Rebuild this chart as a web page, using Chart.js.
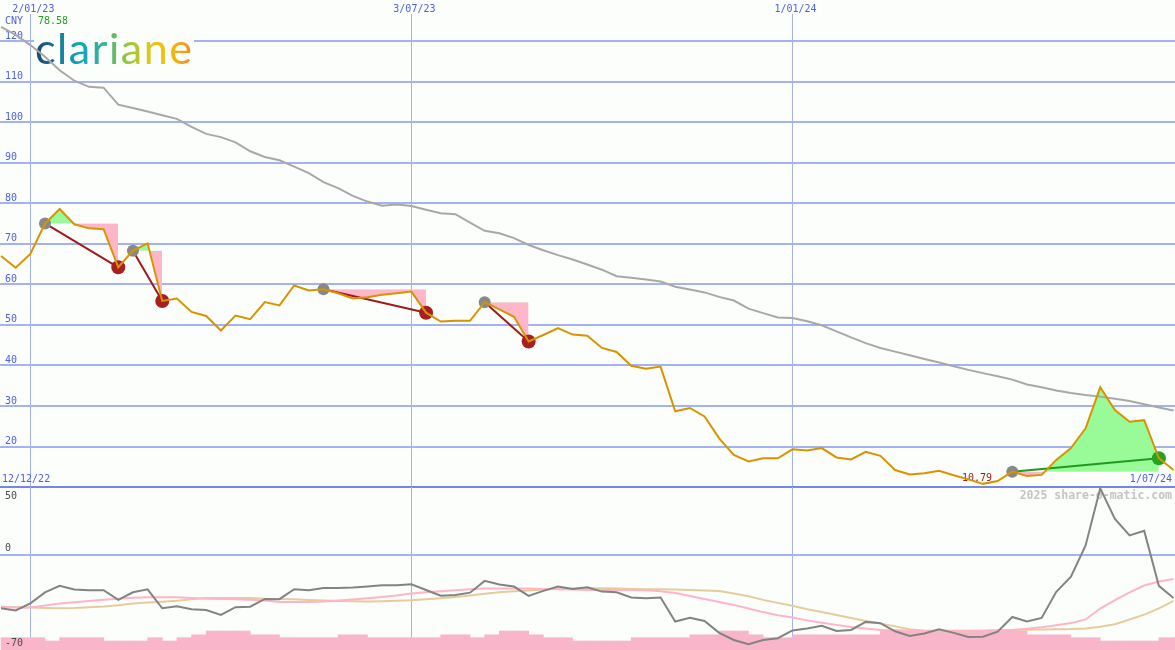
<!DOCTYPE html>
<html>
<head>
<meta charset="utf-8">
<title>clariane - share-o-matic</title>
<script src="https://cdn.jsdelivr.net/npm/chart.js@4.4.1/dist/chart.umd.min.js"></script>
<style>
  html, body { margin: 0; padding: 0; background: #fbfefb; }
  #wrap { position: relative; width: 1175px; height: 650px; overflow: hidden; }
  .box { position: absolute; left: 0; width: 1175px; }
</style>
</head>
<body>
<div id="wrap">
  <div class="box" style="top:0;height:488px"><canvas id="priceChart"></canvas></div>
  <div class="box" style="top:487px;height:163px"><canvas id="oscChart"></canvas></div>
</div>
<script>
// weekly closes, first week starts 19 Dec 2022
const firstWeek = '2022-12-19';
const dateTicks = ['2023-01-02', '2023-07-03', '2024-01-01'];
const dateLabels = ['2/01/23', '3/07/23', '1/01/24'];
const rangeLabels = ['12/12/22', '1/07/24'];
const currency = 'CNY';
const priceTicks = [10, 20, 30, 40, 50, 60, 70, 80, 90, 100, 110, 120];
const oscTicks = [50, 0, -70];

const price = [67.0, 64.1, 67.5, 75.0, 78.58, 74.8, 73.8, 73.6, 64.2, 68.3,
  70.1, 55.9, 56.5, 53.2, 52.2, 48.6, 52.3, 51.4, 55.6, 54.8,
  59.7, 58.5, 58.8, 57.8, 56.5, 56.8, 57.4, 57.8, 58.2, 53.0,
  50.8, 51.0, 51.0, 55.6, 53.8, 52.0, 45.9, 47.5, 49.2, 47.6,
  47.3, 44.3, 43.3, 39.9, 39.2, 39.7, 28.7, 29.5, 27.4, 22.0,
  17.9, 16.3, 17.1, 17.1, 19.3, 19.0, 19.6, 17.3, 16.8, 18.7,
  17.7, 14.2, 13.1, 13.4, 14.0, 12.9, 11.9, 10.79, 11.5, 13.8,
  12.7, 13.0, 16.7, 19.6, 24.5, 34.6, 29.0, 26.1, 26.5, 17.1, 14.2];

const priceMa = [123.5, 121.5, 119.0, 116.1, 112.8, 110.2, 108.7, 108.5, 104.3, 103.5,
  102.6, 101.7, 100.8, 98.8, 97.1, 96.3, 95.0, 92.8, 91.4, 90.6,
  89.0, 87.4, 85.2, 83.7, 81.8, 80.4, 79.4, 79.7, 79.3, 78.4,
  77.5, 77.3, 75.2, 73.2, 72.6, 71.4, 69.7, 68.4, 67.2, 66.1,
  64.9, 63.6, 62.0, 61.6, 61.2, 60.7, 59.4, 58.7, 58.0, 56.9,
  56.0, 54.0, 52.9, 51.8, 51.7, 50.9, 49.9, 48.4, 46.9, 45.5,
  44.3, 43.4, 42.5, 41.6, 40.7, 39.8, 38.9, 38.1, 37.3, 36.5,
  35.3, 34.6, 33.8, 33.2, 32.7, 32.3, 31.8, 31.2, 30.4, 29.6, 28.9];

const osc = [-39.3, -40.9, -35.7, -27.6, -22.8, -25.4, -26.0, -26.0, -33.1, -27.5,
  -25.3, -39.3, -37.8, -40.0, -40.5, -44.2, -38.5, -38.1, -32.4, -32.6,
  -25.3, -26.0, -24.3, -24.3, -23.9, -23.2, -22.3, -22.3, -21.6, -25.8,
  -30.0, -29.5, -27.8, -19.1, -21.7, -23.3, -30.2, -26.5, -23.2, -25.0,
  -23.8, -27.0, -27.5, -31.3, -31.9, -31.4, -49.0, -46.2, -48.6, -57.4,
  -62.6, -65.8, -62.6, -61.3, -55.6, -54.1, -52.1, -56.0, -55.2, -49.3,
  -50.3, -56.2, -59.6, -57.8, -54.7, -57.4, -60.4, -60.2, -56.5, -45.7,
  -49.0, -46.4, -27.2, -16.0, 7.0, 49.0, 26.5, 14.4, 17.7, -22.8, -31.7];

const oscFast = [-38.1, -38.7, -38.7, -37.2, -35.7, -34.8, -33.9, -33.0, -32.3, -31.5,
  -31.1, -31.1, -31.1, -31.7, -32.3, -32.5, -32.7, -33.0, -33.5, -34.6,
  -34.6, -34.6, -34.3, -33.6, -32.8, -31.9, -30.9, -29.9, -28.4, -27.5,
  -26.7, -26.1, -25.3, -24.8, -24.8, -24.8, -24.8, -25.0, -25.3, -25.5,
  -25.8, -25.8, -25.8, -25.8, -26.1, -26.7, -28.1, -30.2, -32.5, -34.6,
  -36.8, -39.5, -42.1, -44.4, -46.0, -48.2, -49.9, -51.5, -53.0, -54.2,
  -55.2, -55.5, -55.8, -56.0, -56.3, -56.4, -56.1, -55.8, -55.5, -55.2,
  -54.3, -53.2, -51.8, -50.2, -47.5, -39.5, -33.3, -27.6, -22.5, -19.6, -17.7];

const oscSlow = [-38.1, -38.5, -38.8, -39.0, -39.2, -39.0, -38.5, -37.9, -37.0, -35.8,
  -35.1, -34.4, -33.7, -32.6, -31.7, -31.7, -31.7, -31.8, -32.3, -32.4,
  -32.6, -33.1, -33.5, -33.9, -34.2, -34.3, -34.1, -33.8, -33.4, -32.6,
  -31.9, -30.9, -29.8, -28.6, -27.5, -26.8, -26.2, -25.5, -25.0, -24.7,
  -24.6, -24.5, -24.7, -25.0, -25.3, -25.3, -25.5, -25.8, -26.2, -26.6,
  -28.4, -30.4, -33.1, -35.3, -37.4, -40.0, -42.0, -44.3, -46.5, -48.6,
  -50.4, -52.6, -54.7, -55.8, -56.5, -56.5, -56.3, -55.9, -55.5, -55.2,
  -55.1, -54.9, -54.7, -54.6, -54.1, -52.8, -51.0, -47.6, -44.0, -39.4, -33.9];

// weekly volume, millions
const volume = [1.23, 1.23, 1.23, 0.9, 1.23, 1.23, 1.23, 0.9, 0.9, 0.9,
  1.23, 0.9, 1.23, 1.52, 1.9, 1.9, 1.9, 1.52, 1.52, 1.23,
  1.23, 1.23, 1.23, 1.52, 1.52, 1.23, 1.23, 1.23, 1.23, 1.23,
  1.52, 1.52, 1.23, 1.52, 1.9, 1.9, 1.52, 1.23, 1.23, 0.9,
  0.9, 0.9, 0.9, 1.23, 1.23, 1.23, 1.23, 1.52, 1.52, 1.9,
  1.9, 1.52, 1.23, 1.23, 1.52, 1.52, 1.52, 1.52, 1.52, 1.52,
  2.0, 2.0, 2.0, 2.0, 2.0, 2.0, 2.0, 1.9, 1.9, 1.9,
  1.52, 1.52, 1.52, 1.23, 1.23, 0.9, 0.9, 0.9, 0.9, 1.23, 1.23];

// trades: week index of entry / exit
const tradeEntry = [3, 9, 22, 33, 69];
const tradeExit = [8, 11, 29, 36, 79];

const BG = '#fbfefb';
const GRID = '#a4b2f2';
const AXIS_BLUE = '#4f60e6';
const MONO = '"DejaVu Sans Mono", monospace';
const X_MIN = -0.07, X_MAX = 80.1;

function weekOf(d) {
  return (Date.parse(d) - Date.parse(firstWeek)) / (7 * 864e5);
}
const tickWeeks = dateTicks.map(weekOf);
const pts = arr => arr.map((v, i) => ({ x: i, y: v }));

function xScale() {
  return {
    type: 'linear', min: X_MIN, max: X_MAX, offset: false,
    afterBuildTicks: axis => { axis.ticks = tickWeeks.map(v => ({ value: v })); },
    ticks: { display: false },
    border: { display: false },
    grid: { color: GRID, lineWidth: 1, drawTicks: false, offset: false }
  };
}

// ---------- upper panel ----------
const topSets = [];
topSets.push({ data: pts(price), borderColor: '#d89400', borderWidth: 2, fill: false, order: 1 });
topSets.push({ data: pts(priceMa), borderColor: '#a8a8a8', borderWidth: 2, fill: false, order: 4 });

tradeEntry.forEach((e, t) => {
  const x = tradeExit[t];
  const level = price[e];
  const win = price[x] > level;
  const seg = [], lvl = [];
  for (let i = e; i <= x; i++) {
    seg.push({ x: i, y: price[i] });
    lvl.push({ x: i, y: level });
  }
  const lvlIndex = topSets.length;
  topSets.push({ data: lvl, borderWidth: 0, borderColor: 'rgba(0,0,0,0)', fill: false, order: 7 });
  topSets.push({ data: seg, borderWidth: 0, borderColor: 'rgba(0,0,0,0)', order: 6,
    fill: { target: lvlIndex, above: '#98fb98', below: '#ffb6c8' } });
  topSets.push({ data: [{ x: e, y: level }, { x: x, y: price[x] }], borderColor: win ? '#1f9a1f' : '#9e1b1b',
    borderWidth: 2, fill: false, order: 3 });
  topSets.push({ data: [{ x: e, y: level }], showLine: false, pointRadius: 6, pointBorderWidth: 0,
    pointBackgroundColor: '#888888', order: 2 });
  topSets.push({ data: [{ x: x, y: price[x] }], showLine: false, pointRadius: 7, pointBorderWidth: 0,
    pointBackgroundColor: win ? '#22a422' : '#a62020', order: 2 });
});

const topDecor = {
  id: 'topDecor',
  beforeDatasetsDraw(chart) {
    const ctx = chart.ctx;
    const xs = chart.scales.x, ys = chart.scales.y;
    ctx.save();
    // logo
    ctx.fillStyle = BG;
    ctx.fillRect(34, 28, 160, 42);
    ctx.font = '43px Lato';
    const word = 'clariane';
    const w = ctx.measureText(word).width;
    const target = 157;
    if ('letterSpacing' in ctx) {
      ctx.letterSpacing = ((target - w) / (word.length - 1)) + 'px';
    }
    const g = ctx.createLinearGradient(35, 0, 35 + target, 0);
    g.addColorStop(0, '#1c4866');
    g.addColorStop(0.16, '#16809e');
    g.addColorStop(0.3, '#13a7c0');
    g.addColorStop(0.45, '#3fb48a');
    g.addColorStop(0.58, '#92c53c');
    g.addColorStop(0.72, '#d9c91a');
    g.addColorStop(0.85, '#f6bf08');
    g.addColorStop(1, '#f38d1c');
    ctx.fillStyle = g;
    ctx.textBaseline = 'alphabetic';
    ctx.textAlign = 'left';
    ctx.fillText(word, 35, 63.5);
    if ('letterSpacing' in ctx) ctx.letterSpacing = '0px';

    ctx.font = '10px ' + MONO;
    ctx.textBaseline = 'middle';
    ctx.fillStyle = AXIS_BLUE;
    priceTicks.filter(v => v > 10).forEach(v => {
      ctx.fillText(String(v), 5, ys.getPixelForValue(v) - 5);
    });
    ctx.fillText(currency, 5, 21);
    ctx.textAlign = 'center';
    dateLabels.forEach((s, i) => ctx.fillText(s, xs.getPixelForValue(tickWeeks[i]) + 3, 9));
    ctx.textAlign = 'left';
    ctx.fillText(rangeLabels[0], 2, 479);
    ctx.textAlign = 'right';
    ctx.fillText(rangeLabels[1], 1172, 479);

    ctx.textAlign = 'left';
    ctx.fillStyle = '#22a022';
    ctx.fillText(Math.max(...price).toFixed(2), 38, 21);

    const lo = Math.min(...price);
    const li = price.indexOf(lo);
    ctx.fillStyle = '#a01c1c';
    ctx.textAlign = 'center';
    ctx.fillText(lo.toFixed(2), xs.getPixelForValue(li) - 6, ys.getPixelForValue(lo) - 5);
    ctx.restore();
  }
};

new Chart(document.getElementById('priceChart'), {
  type: 'line',
  data: { datasets: topSets },
  options: {
    responsive: true, maintainAspectRatio: false, animation: false,
    devicePixelRatio: 1,
    layout: { autoPadding: false, padding: { top: 14, left: 0, right: 0, bottom: 0 } },
    elements: { point: { radius: 0, hoverRadius: 0 }, line: { tension: 0 } },
    plugins: { legend: { display: false }, tooltip: { enabled: false }, colors: { enabled: false } },
    events: [],
    scales: {
      x: xScale(),
      y: {
        type: 'linear', min: 9.766, max: 126.66,
        afterBuildTicks: axis => { axis.ticks = priceTicks.map(v => ({ value: v })); },
        ticks: { display: false },
        border: { display: false },
        grid: {
          drawTicks: false, lineWidth: 2,
          color: c => (c.tick && c.tick.value === 10 ? '#7585ee' : GRID)
        }
      }
    }
  },
  plugins: [topDecor]
});

// ---------- lower panel ----------
const lowDecor = {
  id: 'lowDecor',
  beforeDatasetsDraw(chart) {
    const ctx = chart.ctx;
    ctx.save();
    ctx.font = 'bold 11.5px ' + MONO;
    ctx.fillStyle = '#c4c4c4';
    ctx.textAlign = 'right';
    ctx.textBaseline = 'middle';
    ctx.fillText('2025 share-o-matic.com', 1172, chart.chartArea.top + 9);
    ctx.restore();
  },
  afterDatasetsDraw(chart) {
    // scale labels sit on top of the volume bars
    const ctx = chart.ctx;
    const ys = chart.scales.y;
    const top = chart.chartArea.top;
    ctx.save();
    ctx.font = '10px ' + MONO;
    ctx.fillStyle = '#4a4a4a';
    ctx.textAlign = 'left';
    ctx.textBaseline = 'middle';
    oscTicks.forEach(v => {
      const y = Math.max(ys.getPixelForValue(v) - 7, top + 9);
      ctx.fillText(String(v), 5, y);
    });
    ctx.restore();
  }
};

new Chart(document.getElementById('oscChart'), {
  type: 'line',
  data: {
    datasets: [
      { type: 'bar', data: volume.map((v, i) => ({ x: i + 0.5, y: v })), yAxisID: 'vol',
        backgroundColor: '#f9b5ca', borderWidth: 0, barPercentage: 1, categoryPercentage: 1, order: 10 },
      { data: pts(oscSlow), borderColor: '#e6cc9c', borderWidth: 2, fill: false, order: 4 },
      { data: pts(oscFast), borderColor: '#ffb4c8', borderWidth: 2, fill: false, order: 3 },
      { data: pts(osc), borderColor: '#838383', borderWidth: 2, fill: false, order: 1 }
    ]
  },
  options: {
    responsive: true, maintainAspectRatio: false, animation: false,
    devicePixelRatio: 1,
    layout: { autoPadding: false, padding: 0 },
    elements: { point: { radius: 0, hoverRadius: 0 }, line: { tension: 0 } },
    plugins: { legend: { display: false }, tooltip: { enabled: false }, colors: { enabled: false } },
    events: [],
    scales: {
      x: xScale(),
      y: {
        type: 'linear', min: -70, max: 50,
        afterBuildTicks: axis => { axis.ticks = [{ value: 0 }]; },
        ticks: { display: false },
        border: { display: false },
        grid: { drawTicks: false, lineWidth: 2, color: GRID }
      },
      vol: { type: 'linear', display: false, min: 0, max: 16.3 }
    }
  },
  plugins: [lowDecor]
});
</script>
</body>
</html>
